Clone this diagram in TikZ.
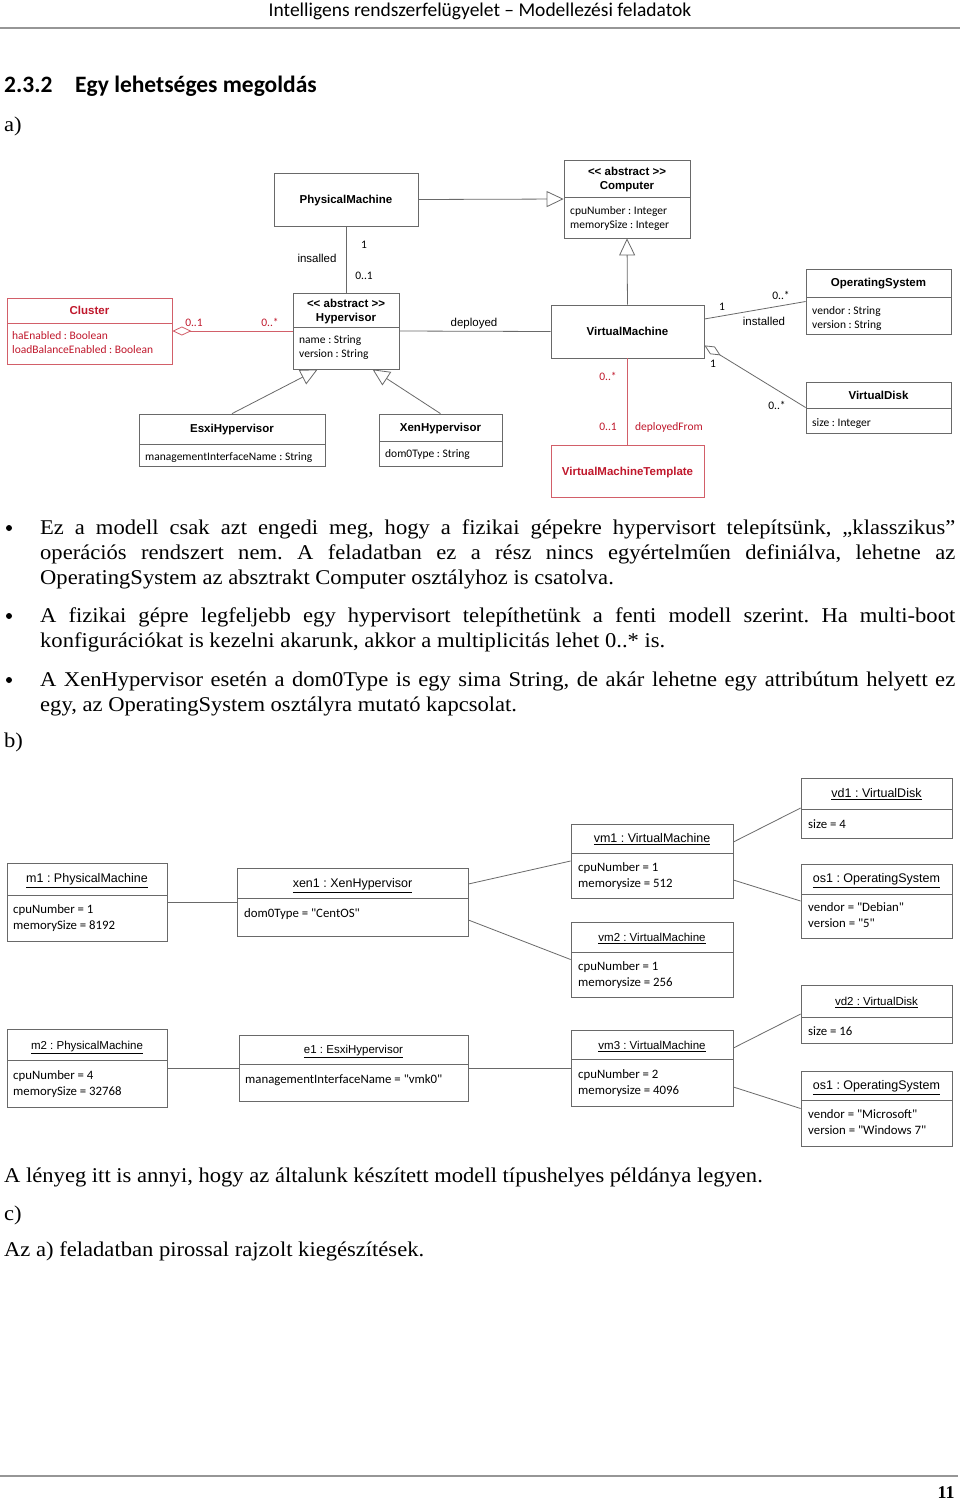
\documentclass[tikz,border=0pt]{standalone}
\usepackage{fontspec}
\setmainfont{Liberation Serif}
\newfontfamily\bodyf{Liberation Serif}[FakeStretch=1.075]
\newfontfamily\calfont{Carlito}
\newfontfamily\arialf{Liberation Sans}
\usetikzlibrary{arrows.meta}
\frenchspacing
\definecolor{lg}{RGB}{105,105,105}
\definecolor{rd}{RGB}{192,24,44}
\definecolor{rdl}{RGB}{210,95,105}
\definecolor{hr}{RGB}{150,150,150}
\newcommand\ubox[6]{\node[bx, draw=#6, minimum width={#4-#2}, minimum height={#5-#3}] (#1) at ({(#2+#4)/2},{(#3+#5)/2}) {};}
\newcommand\qd{\textquotedbl}
\tikzset{
  bx/.style={line width=0.8pt, inner sep=0pt, fill=white},
  dv/.style={draw=lg, line width=0.8pt},
  conn/.style={draw=lg, line width=0.8pt},
  gen/.style={conn, -{Triangle[open,length=17pt,width=16pt]}},
  agg/.style={{Diamond[open,length=19pt,width=9pt]}-},
  cls/.style={font=\arialf\bfseries\fontsize{11.5}{13}\selectfont, inner sep=0pt, anchor=mid, yshift=-2.5pt},
  att/.style={font=\calfont\fontsize{11.5}{13}\selectfont, inner sep=0pt, anchor=mid west, yshift=-2.5pt},
  mul/.style={font=\calfont\fontsize{11.5}{13}\selectfont, inner sep=0pt, anchor=mid, yshift=-2.5pt},
  role/.style={font=\arialf\fontsize{11.5}{13}\selectfont, inner sep=0pt, anchor=mid, yshift=-2.5pt},
  objn/.style={font=\arialf\fontsize{12.5}{14}\selectfont, inner sep=0pt, anchor=mid, yshift=-2.5pt},
  objs/.style={font=\arialf\fontsize{11.5}{13}\selectfont, inner sep=0pt, anchor=mid, yshift=-2.5pt},
  oatt/.style={font=\calfont\fontsize{12.8}{14}\selectfont, inner sep=0pt, anchor=mid west, yshift=-2.5pt},
  body/.style={font=\bodyf\fontsize{21}{25}\selectfont, inner sep=0pt, anchor=mid west, yshift=-5pt},
  bul/.style={circle, fill=black, inner sep=0pt, minimum size=6pt},
}
\begin{document}
\begin{tikzpicture}[x=1pt,y=-1pt]
\useasboundingbox (0,0) rectangle (960,1500);
\fill[white] (0,0) rectangle (960,1500);

% header
\node[font=\calfont\fontsize{19.5}{22}\selectfont, inner sep=0pt, anchor=mid, yshift=-3.5pt] (hdr) at (480,11) {Intelligens rendszerfelügyelet – Modellezési feladatok};
\draw[hr, line width=1.5pt] (0,28) -- (960,28);
\node[font=\calfont\bfseries\fontsize{23.5}{27}\selectfont, inner sep=0pt, anchor=mid west, yshift=-5pt] (hnum) at (4,85) {2.3.2};
\node[font=\calfont\bfseries\fontsize{23.5}{27}\selectfont, inner sep=0pt, anchor=mid west, yshift=-5pt] (htit) at (75,85) {Egy lehetséges megoldás};
\node[body] (la) at (4,124) {a)};

% ===== class diagram =====
\ubox{pm}{274}{173}{418}{226}{lg}
\node[cls] (pmt) at (346,199) {PhysicalMachine};

\ubox{comp}{564}{160}{690}{238}{lg}
\draw[dv] (564,197) -- (690,197);
\node[cls] (compa) at (627,171) {<{}< abstract >{}>};
\node[cls] (compt) at (627,185) {Computer};
\node[att] (compb) at (570,210) {cpuNumber : Integer};
\node[att] (compc) at (570,224) {memorySize : Integer};

\ubox{cl}{7}{298}{172}{364}{rdl}
\draw[draw=rdl, line width=0.8pt] (7,323) -- (172,323);
\node[cls, text=rd] (clt) at (89.5,310) {Cluster};
\node[att, text=rd] (cla) at (12,335) {haEnabled : Boolean};
\node[att, text=rd] (clb) at (12,349) {loadBalanceEnabled : Boolean};

\ubox{hv}{293}{293}{399}{369}{lg}
\draw[dv] (293,327) -- (399,327);
\node[cls] (hva) at (346,303) {<{}< abstract >{}>};
\node[cls] (hvt) at (346,317) {Hypervisor};
\node[att] (hvb) at (299,339) {name : String};
\node[att] (hvc) at (299,353) {version : String};

\ubox{vm}{551}{305}{704}{358}{lg}
\node[cls] (vmt1) at (627.5,331) {VirtualMachine};

\ubox{esxi}{139}{414}{325}{466}{lg}
\draw[dv] (139,444) -- (325,444);
\node[cls] (esxit) at (232,428) {EsxiHypervisor};
\node[att] (esxia) at (145,456) {managementInterfaceName : String};

\ubox{xen}{379}{414}{502}{466}{lg}
\draw[dv] (379,441) -- (502,441);
\node[cls] (xent) at (440.5,427) {XenHypervisor};
\node[att] (xena) at (385,453) {dom0Type : String};

\ubox{os}{806}{269}{951}{334}{lg}
\draw[dv] (806,297) -- (951,297);
\node[cls] (ost) at (878.5,282) {OperatingSystem};
\node[att] (osa) at (812,310) {vendor : String};
\node[att] (osb) at (812,324) {version : String};

\ubox{vd}{806}{382}{951}{433}{lg}
\draw[dv] (806,408) -- (951,408);
\node[cls] (vdt) at (878.5,395) {VirtualDisk};
\node[att] (vda) at (812,422) {size : Integer};

\ubox{vmtp}{551}{445}{704}{497}{rdl}
\node[cls, text=rd] (vmtpt) at (627.5,471) {VirtualMachineTemplate};

% connectors
\draw[draw=rdl, line width=0.8pt, agg] (cl.east) -- (hv.west);
\node[mul, text=rd] (m01) at (194,322) {0..1};
\node[mul, text=rd] (m02) at (270,322) {0..*};

\draw[conn] (pm.south) -- (hv.north);
\node[mul] (m03) at (364,244) {1};
\node[role] (r01) at (317,258) {insalled};
\node[mul] (m04) at (364,275) {0..1};

\draw[gen] (pm.east) -- (comp.west);
\draw[gen] (vm.north) -- (comp.south);
\draw[conn] (hv.east) -- (vm.west);
\node[role] (r02) at (474,322) {deployed};

\draw[gen] (esxi.north) -- ([xshift=25pt]hv.south west);
\draw[gen] (xen.north) -- ([xshift=80pt]hv.south west);

\draw[conn] ([yshift=12.5pt]vm.east) -- (os.west);
\node[mul] (m05) at (722,306) {1};
\node[mul] (m06) at (781,295) {0..*};
\node[role] (r03) at (764,321) {installed};

\draw[conn, agg] ([yshift=13pt]vm.south east) -- (vd.west);
\node[mul] (m07) at (713,363) {1};
\node[mul] (m08) at (777,405) {0..*};

\draw[draw=rdl, line width=0.8pt] (vm.south) -- (vmtp.north);
\node[mul, text=rd] (m09) at (608,376) {0..*};
\node[mul, text=rd] (m10) at (608,426) {0..1};
\node[mul, text=rd] (r04) at (669,426) {deployedFrom};

% ===== bullets =====
\node[bul] (b1) at (9,528) {};
\node[body] (t1) at (40,527) {\makebox[915pt][s]{Ez a modell csak azt engedi meg, hogy a fizikai gépekre hypervisort telepítsünk, „klasszikus”}};
\node[body] (t2) at (40,552) {\makebox[915pt][s]{operációs rendszert nem. A feladatban ez a rész nincs egyértelműen definiálva, lehetne az}};
\node[body] (t3) at (40,577) {OperatingSystem az absztrakt Computer osztályhoz is csatolva.};
\node[bul] (b2) at (9,616) {};
\node[body] (t4) at (40,615) {\makebox[915pt][s]{A fizikai gépre legfeljebb egy hypervisort telepíthetünk a fenti modell szerint. Ha multi-boot}};
\node[body] (t5) at (40,640) {konfigurációkat is kezelni akarunk, akkor a multiplicitás lehet 0..* is.};
\node[bul] (b3) at (9,680) {};
\node[body] (t6) at (40,679) {\makebox[915pt][s]{A XenHypervisor esetén a dom0Type is egy sima String, de akár lehetne egy attribútum helyett ez}};
\node[body] (t7) at (40,704) {egy, az OperatingSystem osztályra mutató kapcsolat.};
\node[body] (lb) at (4,740) {b)};

% ===== object diagram =====
\ubox{vdA}{801}{778}{952}{838}{lg}
\draw[dv] (801,809) -- (952,809);
\node[objn] (vdAt) at (876.5,793) {\underline{vd1 : VirtualDisk}};
\node[oatt] (vdAa) at (808,824) {size = 4};

\ubox{vm1}{571}{824}{733}{898}{lg}
\draw[dv] (571,853) -- (733,853);
\node[objn] (vm1t) at (652,838) {\underline{vm1 : VirtualMachine}};
\node[oatt] (vm1a) at (578,867) {cpuNumber = 1};
\node[oatt] (vm1b) at (578,883) {memorysize = 512};

\ubox{osA}{801}{864}{952}{938}{lg}
\draw[dv] (801,894) -- (952,894);
\node[objn] (osAt) at (876.5,878) {\underline{os1 : OperatingSystem}};
\node[oatt] (osAa) at (808,907) {vendor = \qd Debian\qd};
\node[oatt] (osAb) at (808,923) {version = \qd 5\qd};

\ubox{vm2}{571}{922}{733}{997}{lg}
\draw[dv] (571,952) -- (733,952);
\node[objs] (vm2t) at (652,937) {\underline{vm2 : VirtualMachine}};
\node[oatt] (vm2a) at (578,966) {cpuNumber = 1};
\node[oatt] (vm2b) at (578,982) {memorysize = 256};

\ubox{vdB}{801}{985}{952}{1043}{lg}
\draw[dv] (801,1017) -- (952,1017);
\node[objs] (vdBt) at (876.5,1001) {\underline{vd2 : VirtualDisk}};
\node[oatt] (vdBa) at (808,1031) {size = 16};

\ubox{vm3}{571}{1030}{733}{1106}{lg}
\draw[dv] (571,1059) -- (733,1059);
\node[objs] (vm3t) at (652,1045) {\underline{vm3 : VirtualMachine}};
\node[oatt] (vm3a) at (578,1074) {cpuNumber = 2};
\node[oatt] (vm3b) at (578,1090) {memorysize = 4096};

\ubox{osB}{801}{1071}{952}{1146}{lg}
\draw[dv] (801,1100) -- (952,1100);
\node[objn] (osBt) at (876.5,1085) {\underline{os1 : OperatingSystem}};
\node[oatt] (osBa) at (808,1114) {vendor = \qd Microsoft\qd};
\node[oatt] (osBb) at (808,1130) {version = \qd Windows 7\qd};

\ubox{mA}{7}{863}{167}{941}{lg}
\draw[dv] (7,895) -- (167,895);
\node[objn] (mAt) at (87,878) {\underline{m1 : PhysicalMachine}};
\node[oatt] (mAa) at (13,909) {cpuNumber = 1};
\node[oatt] (mAb) at (13,925) {memorySize = 8192};

\ubox{xn}{237}{868}{468}{936}{lg}
\draw[dv] (237,898) -- (468,898);
\node[objn] (xnt) at (352.5,883) {\underline{xen1 : XenHypervisor}};
\node[oatt] (xna) at (244,913) {dom0Type = \qd CentOS\qd};

\ubox{mB}{7}{1029}{167}{1107}{lg}
\draw[dv] (7,1060) -- (167,1060);
\node[objs] (mBt) at (87,1045) {\underline{m2 : PhysicalMachine}};
\node[oatt] (mBa) at (13,1075) {cpuNumber = 4};
\node[oatt] (mBb) at (13,1091) {memorySize = 32768};

\ubox{ex}{239}{1035}{468}{1101}{lg}
\draw[dv] (239,1064) -- (468,1064);
\node[objs] (ext) at (353.5,1049) {\underline{e1 : EsxiHypervisor}};
\node[oatt] (exa) at (245,1079) {managementInterfaceName = \qd vmk0\qd};

% object links
\draw[conn] (mA.east) -- (xn.west);
\draw[conn] ([yshift=18pt]xn.east) -- (vm1.west);
\draw[conn] ([yshift=-18pt]xn.east) -- (vm2.west);
\draw[conn] ([yshift=19pt]vm1.east) -- (vdA.west);
\draw[conn] ([yshift=-19pt]vm1.east) -- (osA.west);
\draw[conn] (mB.east) -- (ex.west);
\draw[conn] (ex.east) -- (vm3.west);
\draw[conn] ([yshift=20pt]vm3.east) -- (vdB.west);
\draw[conn] ([yshift=-19pt]vm3.east) -- (osB.west);

% ===== trailing text =====
\node[body] (t8) at (4,1175) {A lényeg itt is annyi, hogy az általunk készített modell típushelyes példánya legyen.};
\node[body] (lc) at (4,1213) {c)};
\node[body] (t9) at (4,1249) {Az a) feladatban pirossal rajzolt kiegészítések.};

\draw[hr, line width=1.5pt] (0,1476) -- (958,1476);
\node[font=\bfseries\fontsize{18}{20}\selectfont, inner sep=0pt, anchor=mid, yshift=-4pt] (pg) at (946,1492) {11};
\end{tikzpicture}
\end{document}
